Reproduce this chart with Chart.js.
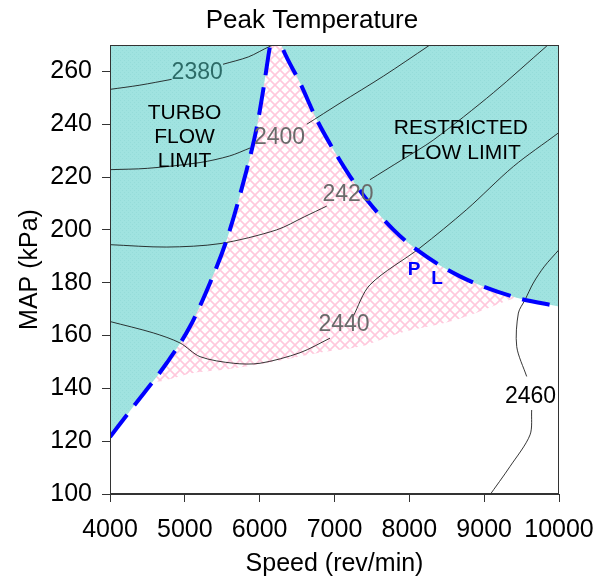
<!DOCTYPE html>
<html>
<head>
<meta charset="utf-8">
<script src="https://cdn.jsdelivr.net/npm/chart.js@4.4.1/dist/chart.umd.min.js"></script>
<style>
html, body { margin: 0; padding: 0; background: #fff; }
</style>
</head>
<body>
<canvas id="mycanvas" width="612" height="579"></canvas>
<script>
// limit line (turbo side, then restricted side)
var limitSpeed = [4000, 4312, 4758, 5069, 5336, 5560, 5827, 5960, 6049, 6138, 6200, 6294, 6539, 6762, 6985, 7207, 7430, 7786, 8098, 8677, 9435, 10000];
var limitMap   = [121.6, 133.1, 149.6, 163.4, 179.9, 196.3, 222.8, 238.6, 253.2, 269.6, 278, 269.6, 255.7, 241.8, 230.4, 220.3, 211.5, 200.1, 192.5, 182.4, 174.3, 171];

// lower edge of the hatched operating area
var areaSpeed = [4580, 4668, 5113, 5510, 6094, 6762, 7341, 7875, 8633, 9345, 9600];
var areaMap   = [143, 142.6, 145.8, 147, 149.6, 153.3, 155.8, 161, 166, 173.5, 176];

// contours (null = break for the label)
var c2380Speed = [4000, 4400, 4824, null, 5510, 5850, 6138, 6320];
var c2380Map   = [253.2, 254.8, 257, null, 262.7, 265.5, 269.5, 271];
var c2400Speed = [4000, 4500, 5203, 5600, 5871, null, 6630, 7074, 7653, 8254, 8300];
var c2400Map   = [222.8, 223.3, 225.5, 228, 231, null, 240, 248, 258.2, 269.6, 270.5];
var c2420Speed = [4000, 4757, 5470, 6227, 6600, 6896, null, 7474, 7900, 8320, 9122, 9836, 9900];
var c2420Map   = [194.4, 193.5, 194.8, 200, 205, 209, null, 219, 226.5, 234, 251.9, 269.6, 271];
var c2440Speed = [4000, 4578, 4935, 5203, 5650, 6005, 6540, 6940, null, 7249, 7474, 8143, 8766, 9390, 9992, 10050];
var c2440Map   = [165.3, 161, 157.2, 152, 149.5, 149.5, 153.5, 159, null, 167.2, 179.2, 193.2, 207.7, 224, 236.7, 238];
var c2460Speed = [9060, 9345, 9613, 9635, null, 9568, 9435, 9457, 9546, 9657, 9800, 10000];
var c2460Map   = [99, 110.4, 122.4, 131.8, null, 144.5, 155.8, 168.5, 173.5, 179.9, 186, 192.5];

var contourLabels = ['2380', '2400', '2420', '2440', '2460'];
var contourLabelSpeed = [5165, 6265, 7181, 7127, 9619];
var contourLabelMap = [259.5, 234.9, 213.4, 164.2, 136.9];

var xTicks = [4000, 5000, 6000, 7000, 8000, 9000, 10000];
var yTicks = [100, 120, 140, 160, 180, 200, 220, 240, 260];

function pts(xs, ys) {
	var out = [];
	for (var i = 0; i < xs.length; i++) {
		out.push({x: xs[i], y: ys[i]});
	}
	return out;
}

var ctx = document.getElementById('mycanvas').getContext('2d');

// fill patterns
function makePattern(w, h, draw) {
	var c = document.createElement('canvas');
	c.width = w; c.height = h;
	draw(c.getContext('2d'));
	return ctx.createPattern(c, 'repeat');
}
var tealFill = makePattern(4, 4, function(g){
	g.fillStyle = '#a0e3e0';
	g.fillRect(0, 0, 4, 4);
	g.fillStyle = '#95dcd9';
	g.fillRect(0, 0, 1, 1);
	g.fillRect(2, 2, 1, 1);
});
var pinkFill = makePattern(10, 10, function(g){
	g.fillStyle = '#ffffff';
	g.fillRect(0, 0, 10, 10);
	g.strokeStyle = '#ffc8dc';
	g.lineWidth = 1.6;
	g.beginPath();
	g.moveTo(-1, -1); g.lineTo(11, 11);
	g.moveTo(11, -1); g.lineTo(-1, 11);
	g.stroke();
});

function contour(xs, ys) {
	return {
		data: pts(xs, ys),
		showLine: true,
		borderColor: 'rgba(20,20,20,0.85)',
		borderWidth: 1,
		tension: 0.3,
		pointRadius: 0,
		fill: false,
		order: 3
	};
}

var textPlugin = {
	id: 'texts',
	afterDatasetsDraw: function(chart) {
		var c = chart.ctx, xs = chart.scales.x, ys = chart.scales.y, a = chart.chartArea;
		c.save();
		c.textAlign = 'center';
		c.textBaseline = 'middle';
		c.font = '23px "Liberation Sans", Arial, sans-serif';
		for (var i = 0; i < contourLabels.length; i++) {
			c.fillStyle = contourLabels[i] === '2460' ? '#000' : (contourLabels[i] === '2380' ? '#2c6b67' : '#6a6a6a');
			c.fillText(contourLabels[i], xs.getPixelForValue(contourLabelSpeed[i]), ys.getPixelForValue(contourLabelMap[i]));
		}
		c.fillStyle = '#000';
		c.font = '21px "Liberation Sans", Arial, sans-serif';
		var tx = xs.getPixelForValue(4996), ty = ys.getPixelForValue(235.2);
		c.fillText('TURBO', tx, ty - 24);
		c.fillText('FLOW', tx, ty);
		c.fillText('LIMIT', tx, ty + 24);
		var rx = xs.getPixelForValue(8688), ry = ys.getPixelForValue(233.6);
		c.fillText('RESTRICTED', rx, ry - 12.5);
		c.fillText('FLOW LIMIT', rx, ry + 12.5);
		c.fillStyle = '#0000ff';
		c.font = 'bold 19px "Liberation Sans", Arial, sans-serif';
		c.fillText('P', xs.getPixelForValue(8063), ys.getPixelForValue(184.8));
		c.fillText('L', xs.getPixelForValue(8370), ys.getPixelForValue(181.6));
		// frame
		c.strokeStyle = '#333';
		c.lineWidth = 1;
		c.strokeRect(Math.round(a.left) + 0.5, Math.round(a.top) + 0.5, Math.round(a.right - a.left) - 1, Math.round(a.bottom - a.top) - 1);
		// title
		c.fillStyle = '#000';
		c.font = '26px "Liberation Sans", Arial, sans-serif';
		c.fillText('Peak Temperature', 312, 21);
		c.restore();
	}
};

Chart.defaults.font.family = '"Liberation Sans", Arial, sans-serif';
Chart.defaults.color = '#000';

var LineGraph = new Chart(ctx, {
	type: 'scatter',
	data: {
		datasets: [
			{
				data: pts(limitSpeed, limitMap),
				showLine: true,
				borderColor: '#0000ff',
				borderWidth: 4,
				borderDash: [28, 12],
				borderCapStyle: 'butt',
				pointRadius: 0,
				cubicInterpolationMode: 'monotone',
				fill: false,
				clip: 0,
				order: 1
			},
			contour(c2380Speed, c2380Map),
			contour(c2400Speed, c2400Map),
			contour(c2420Speed, c2420Map),
			contour(c2440Speed, c2440Map),
			contour(c2460Speed, c2460Map),
			{
				data: pts(limitSpeed, limitMap),
				showLine: true,
				borderWidth: 0,
				borderColor: 'rgba(0,0,0,0)',
				backgroundColor: tealFill,
				pointRadius: 0,
				cubicInterpolationMode: 'monotone',
				fill: 'end',
				order: 4
			},
			{
				data: pts(areaSpeed, areaMap),
				showLine: true,
				borderWidth: 0,
				borderColor: 'rgba(0,0,0,0)',
				backgroundColor: pinkFill,
				pointRadius: 0,
				tension: 0.3,
				fill: 'end',
				order: 5
			}
		]
	},
	options: {
		responsive: false,
		animation: false,
		events: [],
		layout: { padding: { left: 0, right: 53, top: 45, bottom: 0 } },
		plugins: {
			legend: { display: false },
			tooltip: { enabled: false },
			title: { display: false }
		},
		scales: {
			x: {
				type: 'linear',
				min: 4000,
				max: 10000,
				afterBuildTicks: function(s){ s.ticks = xTicks.map(function(v){ return {value: v}; }); },
				afterFit: function(s){ s.height = 85; },
				ticks: {
					font: { size: 25 },
					color: '#000',
					padding: 13,
					maxRotation: 0,
					callback: function(v){ return String(v); }
				},
				grid: { drawOnChartArea: false, drawTicks: true, tickLength: 8, color: '#333' },
				border: { color: '#333', width: 1 },
				title: {
					display: true,
					text: 'Speed (rev/min)',
					color: '#000',
					font: { size: 25 },
					padding: { top: 0, bottom: 0 }
				}
			},
			y: {
				type: 'linear',
				min: 100,
				max: 270,
				afterBuildTicks: function(s){ s.ticks = yTicks.map(function(v){ return {value: v}; }); },
				afterFit: function(s){ s.width = 110; },
				ticks: {
					font: { size: 25 },
					color: '#000',
					padding: 10,
					callback: function(v){ return String(v); }
				},
				grid: { drawOnChartArea: false, drawTicks: true, tickLength: 8, color: '#333' },
				border: { color: '#333', width: 1 },
				title: {
					display: true,
					text: 'MAP (kPa)',
					color: '#000',
					font: { size: 25 },
					padding: { top: 15, bottom: 0 }
				}
			}
		}
	},
	plugins: [textPlugin]
});
</script>
</body>
</html>
